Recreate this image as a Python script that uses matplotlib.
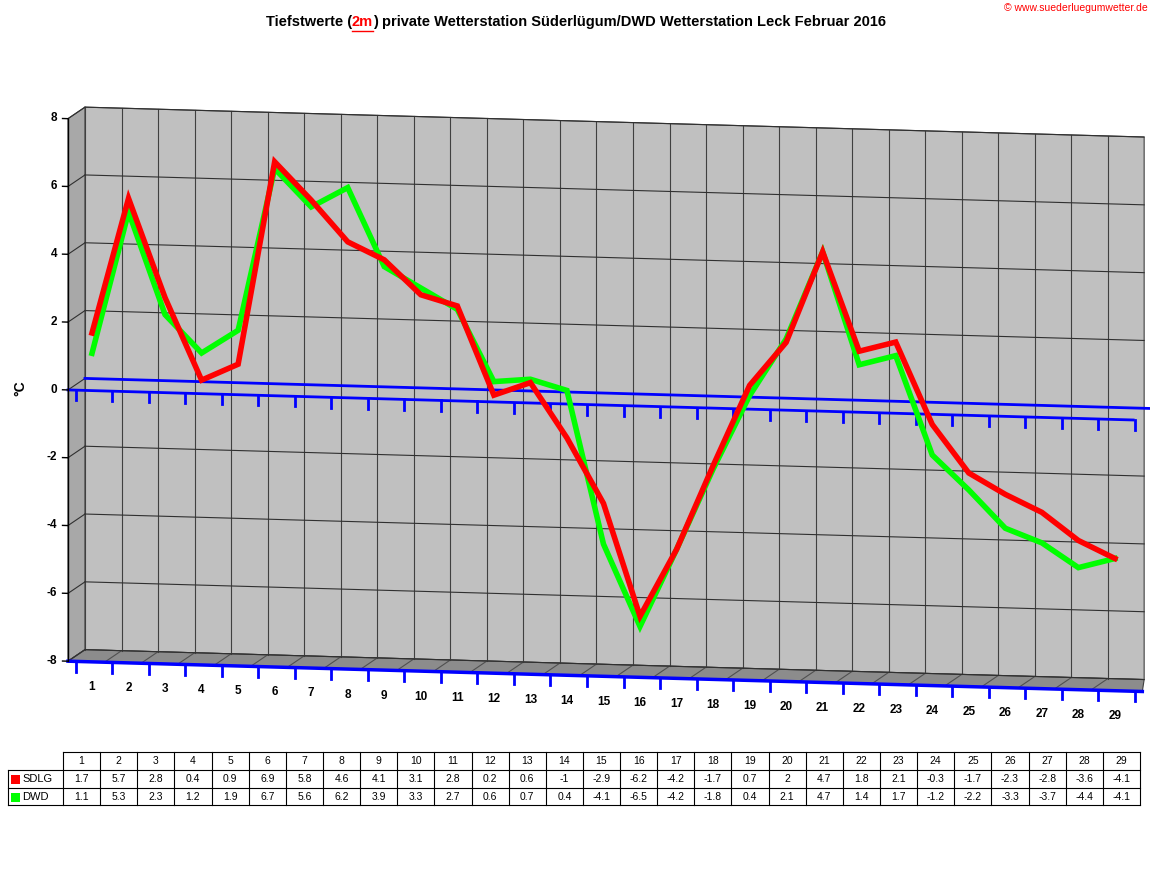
import numpy as np
import matplotlib.pyplot as plt
from matplotlib.patches import Polygon, Rectangle
from matplotlib.transforms import Affine2D

plt.rcParams['font.family'] = ['Liberation Sans', 'DejaVu Sans']

days = list(range(1, 30))
sdlg = [1.7, 5.7, 2.8, 0.4, 0.9, 6.9, 5.8, 4.6, 4.1, 3.1, 2.8, 0.2, 0.6, -1, -2.9, -6.2, -4.2,
        -1.7, 0.7, 2, 4.7, 1.8, 2.1, -0.3, -1.7, -2.3, -2.8, -3.6, -4.1]
dwd = [1.1, 5.3, 2.3, 1.2, 1.9, 6.7, 5.6, 6.2, 3.9, 3.3, 2.7, 0.6, 0.7, 0.4, -4.1, -6.5, -4.2,
       -1.8, 0.4, 2.1, 4.7, 1.4, 1.7, -1.2, -2.2, -3.3, -3.7, -4.4, -4.1]
yticks = [8, 6, 4, 2, 0, -2, -4, -6, -8]

W, H = 1152, 882
fig = plt.figure(figsize=(W / 100, H / 100), dpi=100)
fig.patch.set_facecolor("white")

# main axes: pixel 60..1150 horizontally, 100..710 vertically
ax = fig.add_axes([60 / W, 1 - 710 / H, 1090 / W, 610 / H])
ax.set_xlim(0.124, 29.96)
ax.set_ylim(-9.45, 8.54)
ax.axis("off")

# shear for the pseudo 3D look: y' = y - k*x
k = 0.0304
tr = Affine2D(np.array([[1, 0, 0], [-k, 1, 0], [0, 0, 1]])) + ax.transData

x0f, x1f = 0.343, 29.75       # front plane
dx, dv = 0.465, 0.354         # offset to back plane
x0b, x1b = x0f + dx, 29.8

# back wall
ax.add_patch(Polygon([(x0b, -8 + dv), (x1b, -8 + dv), (x1b, 8 + dv), (x0b, 8 + dv)],
                     closed=True, fc="#c0c0c0", ec="#404040", lw=0.8, transform=tr))
# left side wall
ax.add_patch(Polygon([(x0f, -8), (x0b, -8 + dv), (x0b, 8 + dv), (x0f, 8)],
                     closed=True, fc="#a8a8a8", ec="#404040", lw=0.8, transform=tr))
# floor
ax.add_patch(Polygon([(x0f, -8), (x1f, -8), (x1b, -8 + dv), (x0b, -8 + dv)],
                     closed=True, fc="#8c8c8c", ec="#404040", lw=0.8, transform=tr))
xs = np.arange(x0b, x1b, 1.0)
for xv in xs:
    ax.plot([xv, xv], [-8 + dv, 8 + dv], color="#404040", lw=0.8, transform=tr)
    ax.plot([xv, xv - dx], [-8 + dv, -8], color="#505050", lw=0.8, transform=tr)
for yv in yticks:
    ax.plot([x0b, x1b], [yv + dv, yv + dv], color="#303030", lw=0.8, transform=tr)
    ax.plot([x0f, x0b], [yv, yv + dv], color="#303030", lw=0.8, transform=tr)

# zero lines (back and front) and floor edge
ax.plot([x0b, x1b + 0.3], [dv, dv], color="#0000ff", lw=2, transform=tr)
ax.plot([x0f, 29.5], [0, 0], color="#0000ff", lw=2, transform=tr)
ax.plot([x0f, x1f], [-8, -8], color="#0000ff", lw=2.5, transform=tr)
for i in range(30):
    xt = i + 0.55
    ax.plot([xt, xt], [0, -0.3], color="#0000ff", lw=2, transform=tr)
    ax.plot([xt, xt], [-8, -8.3], color="#0000ff", lw=2, transform=tr)

# front axis with ticks and labels
ax.plot([x0f, x0f], [-8, 8], color="black", lw=1, transform=tr)
for yv in yticks:
    ax.plot([x0f - 0.15, x0f], [yv, yv], color="black", lw=1, transform=tr)
    ax.text(x0f - 0.3, yv, str(yv), ha="right", va="center", fontsize=8.5,
            fontweight="bold", transform=tr)
ax.text(-0.95, 0, "°C", rotation=90, ha="center", va="center", fontsize=10,
        fontweight="bold", transform=tr)
for d in days:
    ax.text(d, -8.75, str(d), ha="center", va="center", fontsize=8.5,
            fontweight="bold", transform=tr)

# data lines
ax.plot(days, dwd, color="#00ff00", lw=4, solid_joinstyle="miter", transform=tr, zorder=5)
ax.plot(days, sdlg, color="#ff0000", lw=4, solid_joinstyle="miter", transform=tr, zorder=6)

# title
fig.canvas.draw()
r = fig.canvas.get_renderer()
parts = [("Tiefstwerte (", "black"), ("2m", "#ff0000"), (") private Wetterstation Süderlügum/DWD Wetterstation Leck Februar 2016", "black")]
ts = [fig.text(0, 1 - 22 / H, p, fontsize=10.5, fontweight="bold", color=c, va="center") for p, c in parts]
widths = [t.get_window_extent(r).width for t in ts]
xpos = 576 - sum(widths) / 2
for t, w in zip(ts, widths):
    t.set_x(xpos / W)
    xpos += w
x2 = ts[1].get_position()[0]
fig.add_artist(plt.Line2D([x2, x2 + widths[1] / W], [1 - 31 / H] * 2, color="#ff0000", lw=1))
fig.text(1148 / W, 1 - 8 / H, "© www.suederluegumwetter.de", fontsize=7.5, color="#ff0000",
         ha="right", va="center")

# table
tax = fig.add_axes([0, 0, 1, 1])
tax.set_xlim(0, W)
tax.set_ylim(H, 0)
tax.axis("off")
left, c0, right = 8, 63, 1140
cw = (right - c0) / 29
rows = [752, 770, 788, 805]
for yv in rows:
    tax.plot([left if yv != rows[0] else c0, right], [yv, yv], color="black", lw=0.8)
tax.plot([left, left], [rows[1], rows[3]], color="black", lw=0.8)
for j in range(30):
    xv = c0 + j * cw
    tax.plot([xv, xv], [rows[0], rows[3]], color="black", lw=0.8)
for j, d in enumerate(days):
    xc = c0 + (j + 0.5) * cw
    tax.text(xc, 761, str(d), ha="center", va="center", fontsize=7.5)
    tax.text(xc, 779, f"{sdlg[j]:g}", ha="center", va="center", fontsize=7.5)
    tax.text(xc, 797, f"{dwd[j]:g}", ha="center", va="center", fontsize=7.5)
for yc, name, col in [(779, "SDLG", "#ff0000"), (797, "DWD", "#00ff00")]:
    tax.add_patch(Rectangle((11, yc - 4.5), 9, 9, fc=col, ec="none"))
    tax.text(22, yc, name, ha="left", va="center", fontsize=8)

fig.savefig("out.png", dpi=100)
